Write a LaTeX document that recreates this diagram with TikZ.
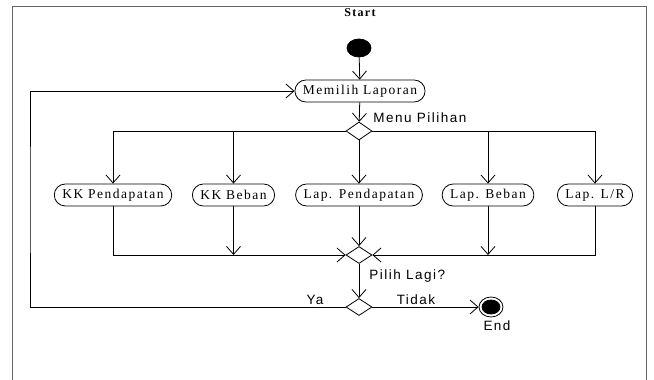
\documentclass[tikz,border=0pt]{standalone}
\usepackage{fontspec}
\usetikzlibrary{arrows.meta,shapes.geometric,calc}
\newfontfamily\serifnode{Liberation Serif}[LetterSpace=11]
\newfontfamily\sanslbl{Liberation Sans}[LetterSpace=11]
\begin{document}
\begin{tikzpicture}[x=1pt,y=-1pt,
  line width=0.8pt,
  >={Straight Barb[length=8pt,width=14pt]},
  act/.style={draw, rounded corners=11pt, minimum height=22pt, inner xsep=8pt, inner ysep=0pt,
    font=\serifnode\fontsize{13.5}{15}\selectfont},
  dec/.style={draw, diamond, aspect=1.5, minimum width=26pt, minimum height=18pt, inner sep=0pt},
  lbl/.style={inner sep=0pt, font=\sanslbl\fontsize{13.5}{15}\selectfont},
  startlbl/.style={inner sep=0pt, font=\serifnode\bfseries\fontsize{12}{14}\selectfont},
  frame/.style={draw=black!60, line width=1pt}
]
\useasboundingbox (0,0) rectangle (654,380);
\draw[frame] (12,385) -- (12,6) -- (646,6) -- (646,385);

\node[startlbl] (slbl) at (360,13) {Start};
\node[draw, fill=black, ellipse, minimum width=24pt, minimum height=18pt, inner sep=0pt] (start) at (359,48) {};
\node[act] (mem) at (360,91) {Memilih Laporan};
\node[dec] (d1) at (359,131) {};
\node[lbl, anchor=west] (menu) at (373,118) {Menu Pilihan};

\node[act] (kkp) at (113,195) {KK Pendapatan};
\node[act] (kkb) at (233.5,195) {KK Beban};
\node[act] (lapp) at (359,195) {Lap. Pendapatan};
\node[act] (lapb) at (488,195) {Lap. Beban};
\node[act] (lr) at (595,195) {Lap. L/R};

\node[dec, minimum height=17pt] (d2) at (359,255) {};
\node[lbl, anchor=west] (pilih) at (369,276) {Pilih Lagi?};
\node[dec, minimum height=17pt] (d3) at (359,307) {};
\node[lbl] (ya) at (315,300) {Ya};
\node[lbl] (tidak) at (416,300) {Tidak};
\node[draw, ellipse, minimum width=24pt, minimum height=20pt, inner sep=0pt] (endc) at (491,307) {};
\node[draw, fill=black, ellipse, minimum width=18pt, minimum height=14pt, inner sep=0pt] at (endc) {};
\node[lbl] (endl) at (497,326) {End};
\coordinate (ret) at (30,200);

\draw[->] (start) -- (mem);
\draw[->] (mem) -- (d1);
\draw[->] (d1.west) -| (kkp.north);
\draw[->] (d1.east) -| (lr.north);
\draw[->] (kkb.north |- d1) -- (kkb.north);
\draw[->] (lapb.north |- d1) -- (lapb.north);
\draw[->] (d1.south) -- (lapp.north);

\draw[->] (kkp.south) |- (d2.west);
\draw[->] (lr.south) |- (d2.east);
\draw[->] (lapp.south) -- (d2.north);
\draw[->] (kkb.south) -- (kkb.south |- d2);
\draw[->] (lapb.south) -- (lapb.south |- d2);

\draw[->] (d2.south) -- (d3.north);
\draw[->] (d3.west) -| (ret) |- (mem.west);
\draw[->] (d3.east) -- (endc.west);
\end{tikzpicture}
\end{document}
